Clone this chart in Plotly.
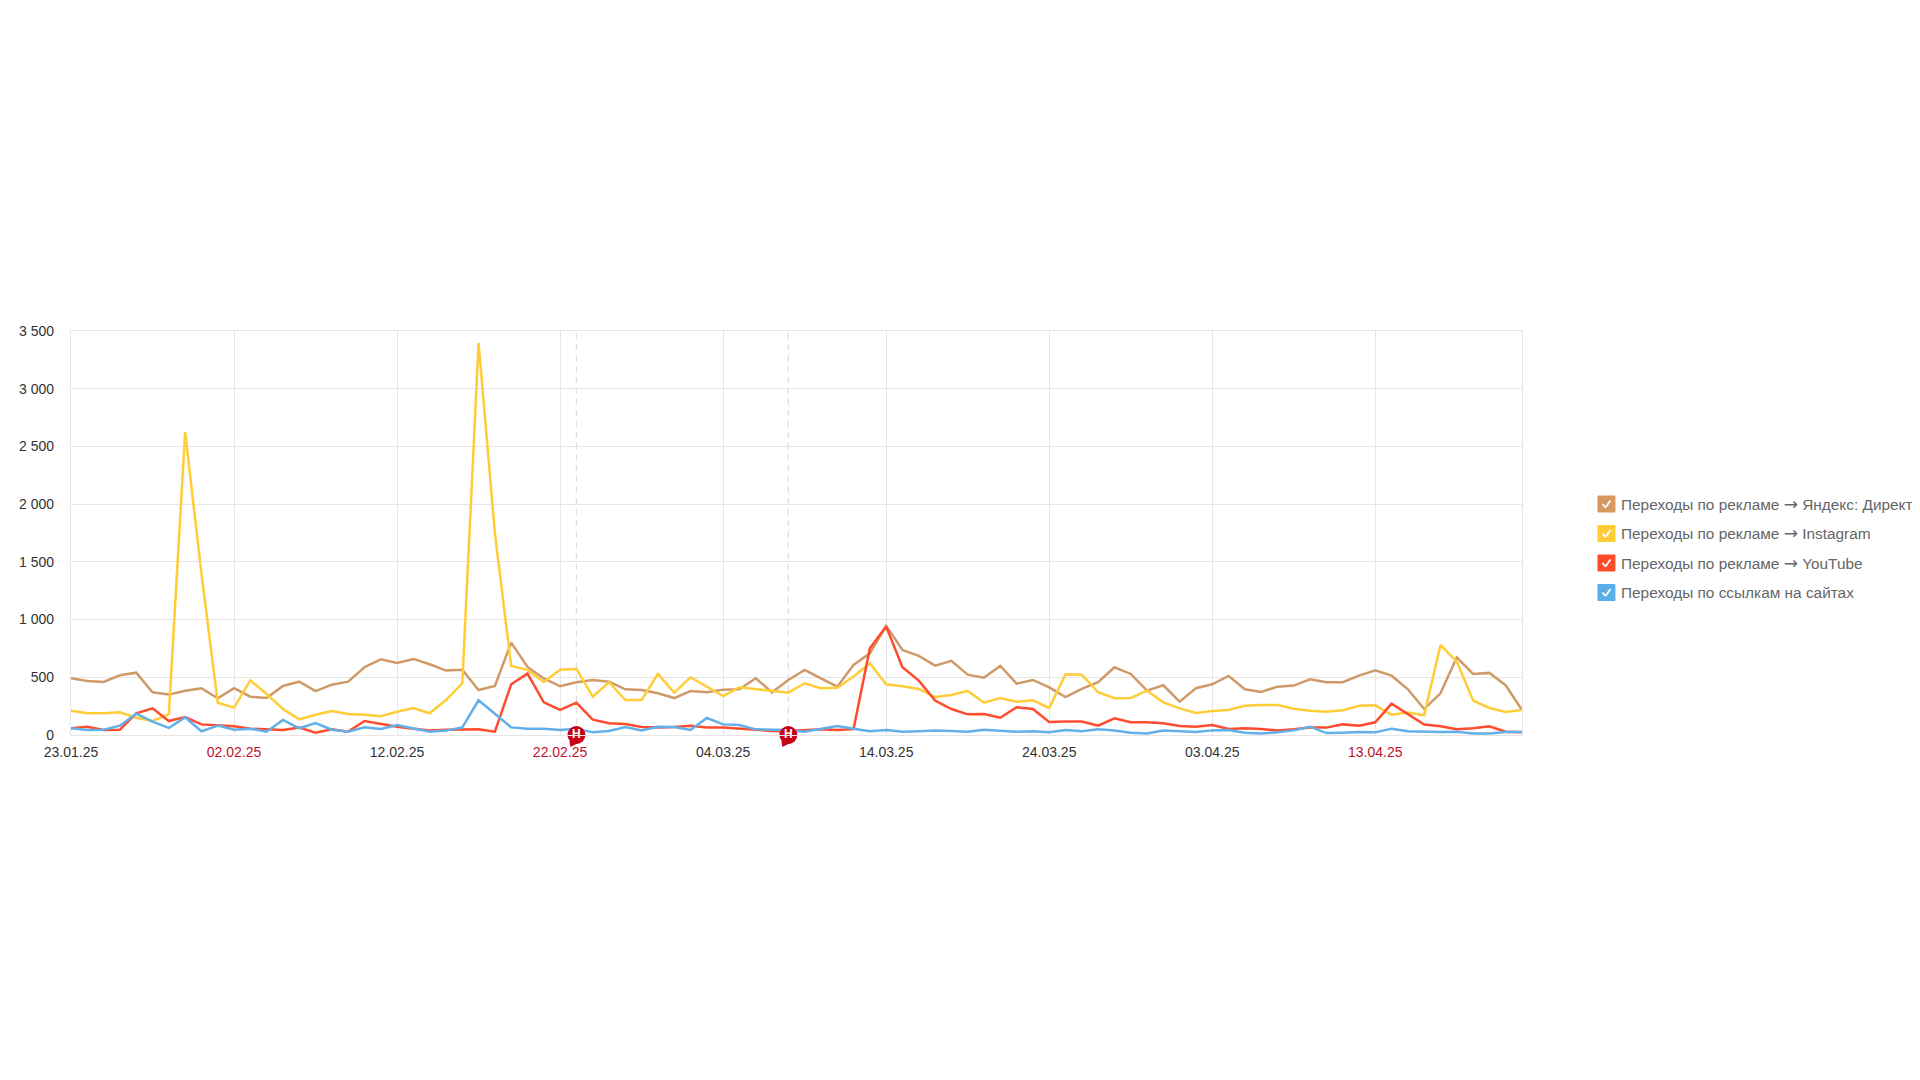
import datetime as dt
import plotly.graph_objects as go

START = dt.date(2025, 1, 23)
yandex = [491,468,460,517,540,370,350,384,405,318,405,332,320,425,462,380,436,462,587,656,
          624,659,613,558,565,390,425,800,590,490,422,457,477,462,396,390,361,320,381,370,
          393,396,491,370,477,564,491,419,607,708,945,737,685,601,642,523,497,598,445,477,
          413,329,399,457,587,529,384,431,289,405,439,512,396,373,419,428,483,457,457,514,
          561,514,396,225,361,673,529,538,431,217]
instagram = [211,188,188,197,150,121,179,2624,1400,280,237,474,355,225,136,176,208,182,176,162,
             202,234,188,303,448,3396,1749,598,564,460,566,572,332,457,303,303,529,367,500,419,
             338,413,396,379,367,448,405,410,506,621,439,422,399,329,347,382,280,321,289,301,
             234,526,523,370,318,321,384,283,231,191,208,217,254,260,260,228,211,202,214,254,
             257,176,194,171,780,636,298,234,199,217]
youtube = [58,72,43,46,188,231,121,156,92,81,75,55,49,43,64,20,49,29,121,95,
           72,55,40,45,49,49,29,439,532,283,217,280,133,101,95,69,66,69,81,66,
           66,55,40,35,35,40,49,43,52,751,939,587,471,298,225,179,182,150,240,225,
           113,116,116,81,144,110,110,101,78,72,87,52,58,52,38,49,64,64,92,81,
           110,272,179,90,75,49,58,75,29,23]
sites = [58,43,46,81,185,116,61,153,32,81,46,55,29,130,58,104,46,29,66,52,
         87,58,29,38,66,301,182,66,55,55,43,55,23,35,69,40,72,69,43,147,
         92,87,49,49,43,29,55,78,55,32,43,29,32,38,35,29,46,40,29,32,
         23,43,32,49,38,20,14,38,32,26,40,43,20,12,23,40,72,17,20,26,
         23,55,32,26,26,29,14,14,26,26]

dates = [START + dt.timedelta(days=i) for i in range(len(yandex))]
names = ["Переходы по рекламе → Яндекс: Директ", "Переходы по рекламе → Instagram",
         "Переходы по рекламе → YouTube", "Переходы по ссылкам на сайтах"]
colors = ["#cf9a68", "#ffcd38", "#ff4b2e", "#62b0ea"]
series = [yandex, instagram, youtube, sites]

x_ticks = [dt.date(2025,1,23), dt.date(2025,2,2), dt.date(2025,2,12), dt.date(2025,2,22),
           dt.date(2025,3,4), dt.date(2025,3,14), dt.date(2025,3,24), dt.date(2025,4,3), dt.date(2025,4,13)]
red_ticks = {dt.date(2025,2,2), dt.date(2025,2,22), dt.date(2025,4,13)}
y_ticks = [0,500,1000,1500,2000,2500,3000,3500]
y_text = ["0","500","1 000","1 500","2 000","2 500","3 000","3 500"]
holidays = [dt.date(2025,2,23), dt.date(2025,3,8)]

fig = go.Figure()
for name, c, vals in zip(names, colors, series):
    fig.add_trace(go.Scatter(x=dates, y=vals, mode="lines", name=name,
                             line=dict(color=c, width=2.5), showlegend=False))
fig.add_trace(go.Scatter(x=holidays, y=[0]*len(holidays), mode="markers+text", text=["<b>Н</b>"]*len(holidays),
                         textposition="middle center", textfont=dict(color="white", size=12, family="Liberation Sans"),
                         marker=dict(color="#c70016", size=18), cliponaxis=False, showlegend=False))

# page pixel -> plot-area fraction (the plot frame on the page)
PL, PR, PT, PB = 70.5, 1522, 331, 735
def px(x): return (x - PL) / (PR - PL)
def py(y): return (PB - y) / (PB - PT)

shapes = []
for h in holidays:
    shapes.append(dict(type="line", xref="x", yref="paper", x0=h, x1=h, y0=0, y1=1, layer="below",
                       line=dict(color="#dddddd", width=1.3, dash="6px,5px")))
    shapes.append(dict(type="path", xref="x", yref="paper", xsizemode="pixel", ysizemode="pixel",
                       xanchor=h, yanchor=0, path="M -7 -6 L -6 -12 L 2 -8 Z",
                       fillcolor="#c70016", line=dict(width=0), layer="above"))

annotations = []
LEG_X0, LEG_X1, TXT_X = 1598, 1615, 1619
leg_y = [504, 533.5, 563, 592.5]
ARROW = "<span style='font-family:DejaVu Sans;font-size:17px'>→</span>"
for name, c, yc in zip(names, ["#d69a60", "#ffcb36", "#ff4b2b", "#5aaee8"], leg_y):
    shapes.append(dict(type="rect", xref="paper", yref="paper", x0=px(LEG_X0), x1=px(LEG_X1),
                       y0=py(yc+8), y1=py(yc-8), fillcolor=c, line=dict(color=c, width=1)))
    pts = [(LEG_X0+4.5, yc), (LEG_X0+7.5, yc+3.5), (LEG_X0+12.5, yc-3.5)]
    for a, b in zip(pts, pts[1:]):
        shapes.append(dict(type="line", xref="paper", yref="paper", x0=px(a[0]), x1=px(b[0]),
                           y0=py(a[1]), y1=py(b[1]), line=dict(color="white", width=1.8)))
    annotations.append(dict(xref="paper", yref="paper", x=px(TXT_X), y=py(yc-0.5), xanchor="left", yanchor="middle",
                            text=name.replace("→", ARROW), showarrow=False,
                            font=dict(family="Liberation Sans", size=15.4, color="#666666")))

FW, FH = 1912, 1072
fig.update_layout(
    width=FW, height=FH, autosize=False, paper_bgcolor="white", plot_bgcolor="white", showlegend=False,
    margin=dict(l=PL-8, r=FW-(PR-8), t=PT-8, b=FH-(PB-8), pad=0),
    font=dict(family="Liberation Sans", size=14, color="#333333"),
    shapes=shapes, annotations=annotations,
    xaxis=dict(type="date", range=[dates[0], dates[-1]], tickmode="array", tickvals=x_ticks,
               ticktext=[("<span style='color:#c0102a'>%s</span>" if d in red_ticks else "%s") % d.strftime("%d.%m.%y") for d in x_ticks],
               tickangle=0, showgrid=True, gridcolor="#e6e6e6", gridwidth=1.4, showline=True, linecolor="#e6e6e6",
               linewidth=1.4, mirror=True, ticks="outside", ticklen=4, tickcolor="rgba(0,0,0,0)", zeroline=False, automargin=False),
    yaxis=dict(range=[0, 3500], tickmode="array", tickvals=y_ticks, ticktext=y_text, showgrid=True,
               gridcolor="#e6e6e6", gridwidth=1.4, showline=True, linecolor="#e6e6e6", linewidth=1.4, mirror=True,
               ticks="outside", ticklen=13, tickcolor="rgba(0,0,0,0)", zeroline=False, automargin=False),
)
fig.write_html("out.html")
